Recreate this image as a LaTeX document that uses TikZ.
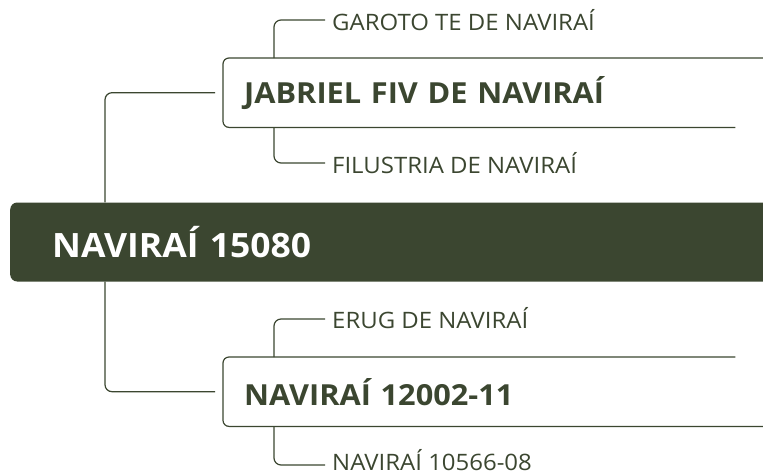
\documentclass[tikz,border=0pt]{standalone}
\usepackage{fontspec}
\setmainfont{Open Sans}[FakeStretch=1.06]
\usetikzlibrary{calc,positioning}
\definecolor{mmgreen}{RGB}{59,70,48}
\tikzset{
  rootbox/.style={rectangle, rounded corners=7pt, fill=mmgreen, text=white, font=\bfseries\fontsize{33.5}{38}\selectfont, text width=706pt, align=left, inner xsep=42pt, minimum height=79pt, anchor=west},
  topicbox/.style={rectangle, text=mmgreen, font=\bfseries\fontsize{29}{33}\selectfont, text width=470pt, align=left, inner xsep=21pt, minimum height=69pt, anchor=north west},
  leaf/.style={text=mmgreen, font=\fontsize{22.6}{27}\selectfont, inner xsep=7pt, inner ysep=0pt, anchor=base west},
  border/.style={draw=mmgreen, line width=1.2pt, rounded corners=6pt},
  link/.style={draw=mmgreen, line width=1.2pt, rounded corners=7pt}
}
\begin{document}
\begin{tikzpicture}[x=1pt,y=-1pt]
\useasboundingbox (0,0) rectangle (763,475);
\clip (0,0) rectangle (763,475);
\node[rootbox] (root) at (10,242) {NAVIRAÍ 15080};
\node[topicbox] (jab) at (223,58) {JABRIEL FIV DE NAVIRAÍ};
\node[topicbox] (nav) at (223,357) {NAVIRAÍ 12002-11};
\node[leaf] (garoto) at (325,30) {GAROTO TE DE NAVIRAÍ};
\node[leaf] (filustria) at (325,173) {FILUSTRIA DE NAVIRAÍ};
\node[leaf] (erug) at (325,328) {ERUG DE NAVIRAÍ};
\node[leaf] (navsub) at (325,470) {NAVIRAÍ 10566-08};
\draw[border] (jab.south east) -- (jab.south west) -- (jab.north west) -- ($(jab.north east)+(40,0)$);
\draw[border] (nav.north east) -- (nav.north west) -- (nav.south west) -- ($(nav.south east)+(40,0)$);
\draw[link] ($(root.north west)+(95,0)$) |- ($(jab.west)+(-8,0)$);
\draw[link] ($(root.south west)+(95,0)$) |- ($(nav.west)+(-8,0)$);
\draw[link] ($(jab.north west)+(51,0)$) |- ($(garoto.base west)+(0,-10)$);
\draw[link] ($(jab.south west)+(51,0)$) |- ($(filustria.base west)+(0,-10)$);
\draw[link] ($(nav.north west)+(51,0)$) |- ($(erug.base west)+(0,-9)$);
\draw[link] ($(nav.south west)+(51,0)$) |- ($(navsub.base west)+(0,-5)$);
\end{tikzpicture}
\end{document}
